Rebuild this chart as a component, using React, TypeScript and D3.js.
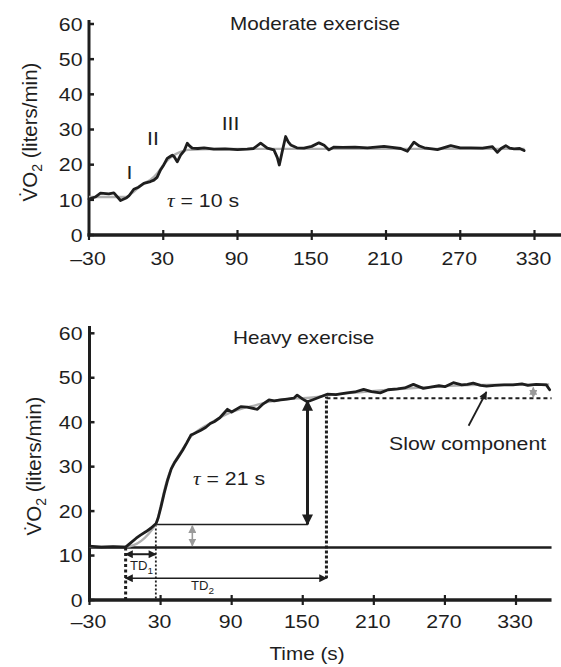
import React from 'react';
import * as d3 from 'd3';

const FONT = "'Liberation Sans', Arial, Helvetica, sans-serif";
const INK = '#1e1e1e';

// ---------- Moderate exercise (measured) ----------
const modTime = [-30, -25, -20.7, -14, -9.9, -4.5, 0, 2.2, 6.2, 10, 14.3, 19.7, 22.4, 25, 27.8, 30.5, 33.2, 35.9, 37.3, 39, 41.3, 44, 47, 49.4, 51, 53.4, 58, 63, 70.9, 80, 90, 97.9, 103, 108.7, 114.1, 119.4, 122.2, 123.8, 126, 128.9, 131, 133, 138, 143.7, 150, 155.8, 160, 163.9, 168, 175, 185, 195, 208.4, 215, 222, 227.3, 232.6, 237, 241, 251.6, 262.3, 270, 278.5, 288, 296, 300, 303, 306.8, 310, 313.5, 318, 321.6];
const modVO2 = [10.2, 10.8, 11.9, 11.7, 12.0, 9.8, 10.5, 11.1, 13.0, 13.6, 14.7, 15.2, 15.6, 16.4, 18.5, 20, 21.8, 22.4, 22.7, 22.2, 20.8, 22.7, 24, 26.1, 25.4, 24.7, 24.6, 24.8, 24.4, 24.5, 24.3, 24.4, 24.6, 26.1, 24.7, 24.2, 22.0, 19.9, 23.5, 28.0, 26.5, 25.6, 24.8, 24.7, 25.2, 26.2, 25.5, 24.2, 25.0, 24.9, 25.0, 24.8, 25.2, 24.9, 24.6, 23.8, 26.4, 25.3, 24.8, 24.3, 25.4, 24.8, 24.8, 24.7, 25.1, 23.5, 24.6, 25.4, 24.7, 24.5, 24.6, 24.0];
// model fit (grey)
const modFitTime = [-30, 0, 5, 10, 15, 20, 25, 30, 35, 40, 45, 50, 60, 80, 322];
const modFitVO2 = [10.8, 10.8, 12.0, 13.5, 14.8, 15.8, 17.5, 19.8, 21.8, 23.0, 23.8, 24.2, 24.4, 24.5, 24.5];

// ---------- Heavy exercise (measured) ----------
const heavyTime = [-30, -20, -10, 0, 1, 5, 9.4, 13, 17.8, 22, 26.2, 28, 30.4, 33, 36, 39, 41.6, 45, 48.6, 52, 55.6, 58, 61, 64, 68, 72, 75.2, 80, 86.5, 90, 97.7, 103, 111.7, 116, 121.5, 126, 131.3, 137, 142.5, 145.3, 150, 153.8, 158, 164, 170.6, 178, 187.4, 194, 201.4, 208, 215.4, 222, 230, 236, 243.4, 248, 251.8, 258, 265, 270, 277.1, 284.1, 289, 293.9, 300, 305.2, 312, 320, 327.5, 335, 340, 347, 355.6, 358.4];
const heavyVO2 = [12.1, 11.9, 12.0, 11.9, 12.0, 12.9, 13.9, 14.6, 15.4, 16.2, 17.2, 18.5, 21, 24, 27, 29.5, 30.8, 32.2, 33.7, 35.3, 37.1, 37.4, 37.8, 38.2, 38.8, 39.7, 40.1, 41.0, 42.9, 42.3, 43.5, 43.4, 42.9, 44.0, 45.0, 44.8, 45.0, 45.2, 45.4, 46.1, 45.2, 44.6, 45.0, 45.6, 46.3, 46.2, 46.6, 46.8, 47.4, 46.9, 46.6, 47.3, 47.5, 47.7, 48.5, 48.0, 47.6, 47.9, 48.2, 48.0, 48.9, 48.4, 48.5, 48.8, 48.3, 48.1, 48.3, 48.4, 48.4, 48.6, 48.3, 48.5, 48.4, 47.3];
const heavyFitTime = [-30, 1, 26, 30, 35, 40, 45, 50, 55, 60, 70, 80, 90, 100, 110, 120, 130, 140, 150, 160, 170, 200, 250, 300, 358];
const heavyFitVO2 = [12, 12, 17, 21, 26.5, 30.2, 32.4, 34.5, 36.6, 37.8, 39.5, 41.0, 42.3, 43.2, 43.8, 44.5, 45.0, 45.3, 45.4, 45.6, 46, 46.8, 47.8, 48.4, 48.5];

// ---------- Annotation values (s, L/min) ----------
const baselineVO2 = 11.8;
const td1Time = 0.5;
const phaseIEnd = 26;
const phaseIVO2 = 17;
const amplitudeTime = 154;
const amplitudeTop = 44.8;
const td2Time = 170;
const primaryPlateau = 45.4;
const td1ArrowVO2 = 10.3;
const td2ArrowVO2 = 4.9;
const greyArrowTime = 56.8;
const slowArrowFrom = [290, 39.2];
const slowArrowTo = [305, 46.8];
const smallGreyArrowTime = 344.6;
const smallGreyArrowTop = 47.8;

const xTicks = [-30, 30, 90, 150, 210, 270, 330];
const yTicks = [0, 10, 20, 30, 40, 50, 60];

const fmt = (v: number) => (v < 0 ? '\u2013' + Math.abs(v) : String(v));

function Txt({ x, y, children, anchor = 'start', size = 18.5, sx = 1.15, fill = INK }: any) {
  return (
    <text transform={`translate(${x},${y}) scale(${sx},1)`} textAnchor={anchor} fontSize={size} fontFamily={FONT} fill={fill}>
      {children}
    </text>
  );
}

function Axes({ x, y, yTop, xEnd, tickBase, labelX, labelY }: any) {
  const x0 = x(-30);
  const y0 = y(0);
  return (
    <g>
      <line x1={x0} x2={x0} y1={yTop} y2={y0 + 1.5} stroke={INK} strokeWidth={3} />
      <line x1={x0 - 1.5} x2={xEnd} y1={y0} y2={y0} stroke={INK} strokeWidth={3.5} />
      {xTicks.map((t) => (
        <line key={'xt' + t} x1={x(t)} x2={x(t)} y1={y0 - 5} y2={y0 + 5} stroke={INK} strokeWidth={2.2} />
      ))}
      {yTicks.map((v) => (
        <line key={'yt' + v} x1={x0} x2={x0 + 5} y1={y(v)} y2={y(v)} stroke={INK} strokeWidth={2.5} />
      ))}
      {xTicks.map((t) => (
        <Txt key={'xl' + t} x={x(t) - 1} y={tickBase} anchor="middle">{fmt(t)}</Txt>
      ))}
      {yTicks.map((v) => (
        <Txt key={'yl' + v} x={82.5} y={y(v) + 6.7} anchor="end">{String(v)}</Txt>
      ))}
      <text transform={`translate(${labelX},${labelY}) rotate(-90)`} textAnchor="middle" fontSize={20.5} fontFamily={FONT} fill={INK}>
        {'V\u0307O'}
        <tspan fontSize={14} dy={5}>2</tspan>
        <tspan dy={-5}>{' (liters/min)'}</tspan>
      </text>
    </g>
  );
}

export default function App() {
  // top panel scales
  const xA = d3.scaleLinear().domain([-30, 330]).range([89, 534.5]);
  const yA = d3.scaleLinear().domain([0, 60]).range([235, 24]);
  // bottom panel scales
  const xB = d3.scaleLinear().domain([-30, 330]).range([89.5, 516]);
  const yB = d3.scaleLinear().domain([0, 60]).range([600, 333.3]);

  const lineA = d3.line<number>().x((_, i) => xA(modTime[i])).y((v) => yA(v));
  const fitA = d3.line<number>().x((_, i) => xA(modFitTime[i])).y((v) => yA(v)).curve(d3.curveMonotoneX);
  const lineB = d3.line<number>().x((_, i) => xB(heavyTime[i])).y((v) => yB(v));
  const fitB = d3.line<number>().x((_, i) => xB(heavyFitTime[i])).y((v) => yB(v)).curve(d3.curveMonotoneX);

  const bEnd = xB(360);

  return (
    <svg width={561} height={667} style={{ position: 'absolute', left: 0, top: 0, background: '#fff' }}>
      <defs>
        <marker id="ahBig" viewBox="0 0 10 10" refX="9" refY="5" markerWidth="12" markerHeight="11" markerUnits="userSpaceOnUse" orient="auto-start-reverse">
          <path d="M0,0 L10,5 L0,10 z" fill={INK} />
        </marker>
        <marker id="ahSmall" viewBox="0 0 10 10" refX="9" refY="5" markerWidth="9" markerHeight="8" markerUnits="userSpaceOnUse" orient="auto-start-reverse">
          <path d="M0,0 L10,5 L0,10 z" fill={INK} />
        </marker>
        <marker id="ahGrey" viewBox="0 0 10 10" refX="9" refY="5" markerWidth="8" markerHeight="8" markerUnits="userSpaceOnUse" orient="auto-start-reverse">
          <path d="M0,0 L10,5 L0,10 z" fill="#9a9a9a" />
        </marker>
      </defs>

      {/* ---------------- Moderate exercise ---------------- */}
      <Axes x={xA} y={yA} yTop={20} xEnd={561} tickBase={265} labelX={36.5} labelY={132} />
      <path d={fitA(modFitVO2) || ''} fill="none" stroke="#b0b0b0" strokeWidth={2.4} />
      <path d={lineA(modVO2) || ''} fill="none" stroke={INK} strokeWidth={2.8} strokeLinejoin="round" strokeLinecap="round" />
      <Txt x={230} y={30} size={18}>Moderate exercise</Txt>
      <Txt x={129.5} y={179} anchor="middle">I</Txt>
      <Txt x={153} y={145} anchor="middle">II</Txt>
      <Txt x={230.5} y={130} anchor="middle">III</Txt>
      <Txt x={167} y={207}>
        <tspan fontFamily="'Liberation Serif', 'Times New Roman', serif" fontStyle="italic">τ</tspan>
        {' = 10 s'}
      </Txt>

      {/* ---------------- Heavy exercise ---------------- */}
      <Axes x={xB} y={yB} yTop={326} xEnd={bEnd} tickBase={628} labelX={41} labelY={466} />

      {/* baseline */}
      <line x1={xB(-30)} x2={bEnd} y1={yB(baselineVO2)} y2={yB(baselineVO2)} stroke={INK} strokeWidth={2.6} />
      {/* phase I level */}
      <line x1={xB(phaseIEnd)} x2={xB(amplitudeTime)} y1={yB(phaseIVO2)} y2={yB(phaseIVO2)} stroke={INK} strokeWidth={1.6} />
      {/* dotted verticals */}
      <line x1={xB(td1Time)} x2={xB(td1Time)} y1={yB(baselineVO2)} y2={yB(0)} stroke={INK} strokeWidth={3} strokeDasharray="3,2.5" />
      <line x1={xB(phaseIEnd)} x2={xB(phaseIEnd)} y1={yB(phaseIVO2)} y2={yB(0)} stroke={INK} strokeWidth={1.8} strokeDasharray="2,2" />
      <line x1={xB(td2Time)} x2={xB(td2Time)} y1={yB(primaryPlateau + 0.6)} y2={yB(td2ArrowVO2)} stroke={INK} strokeWidth={3} strokeDasharray="3,2" />
      {/* primary plateau dotted */}
      <line x1={xB(td2Time)} x2={bEnd} y1={yB(primaryPlateau)} y2={yB(primaryPlateau)} stroke={INK} strokeWidth={2} strokeDasharray="4,3" />

      {/* grey fit and data */}
      <path d={fitB(heavyFitVO2) || ''} fill="none" stroke="#b0b0b0" strokeWidth={2.4} />
      <path d={lineB(heavyVO2) || ''} fill="none" stroke={INK} strokeWidth={2.8} strokeLinejoin="round" strokeLinecap="round" />

      {/* amplitude arrow */}
      <line x1={xB(amplitudeTime)} x2={xB(amplitudeTime)} y1={yB(phaseIVO2)} y2={yB(amplitudeTop)} stroke={INK} strokeWidth={3} markerStart="url(#ahBig)" markerEnd="url(#ahBig)" />
      {/* grey phase I amplitude arrow */}
      <line x1={xB(greyArrowTime)} x2={xB(greyArrowTime)} y1={yB(phaseIVO2 - 0.3)} y2={yB(baselineVO2 + 0.4)} stroke="#9a9a9a" strokeWidth={1.6} markerStart="url(#ahGrey)" markerEnd="url(#ahGrey)" />
      {/* small grey slow-component arrow */}
      <line x1={xB(smallGreyArrowTime)} x2={xB(smallGreyArrowTime)} y1={yB(primaryPlateau + 0.2)} y2={yB(smallGreyArrowTop)} stroke="#9a9a9a" strokeWidth={1.4} markerStart="url(#ahGrey)" markerEnd="url(#ahGrey)" />
      {/* TD1 arrow */}
      <line x1={xB(td1Time)} x2={xB(phaseIEnd)} y1={yB(td1ArrowVO2)} y2={yB(td1ArrowVO2)} stroke={INK} strokeWidth={2} markerStart="url(#ahSmall)" markerEnd="url(#ahSmall)" />
      {/* TD2 arrow */}
      <line x1={xB(td1Time)} x2={xB(td2Time)} y1={yB(td2ArrowVO2)} y2={yB(td2ArrowVO2)} stroke={INK} strokeWidth={1.6} markerStart="url(#ahSmall)" markerEnd="url(#ahSmall)" />
      {/* slow component pointer */}
      <line x1={xB(slowArrowFrom[0])} y1={yB(slowArrowFrom[1])} x2={xB(slowArrowTo[0])} y2={yB(slowArrowTo[1])} stroke={INK} strokeWidth={1.8} markerEnd="url(#ahSmall)" />

      <Txt x={233} y={344} size={18}>Heavy exercise</Txt>
      <Txt x={193} y={485}>
        <tspan fontFamily="'Liberation Serif', 'Times New Roman', serif" fontStyle="italic">τ</tspan>
        {' = 21 s'}
      </Txt>
      <Txt x={389} y={450}>Slow component</Txt>
      <Txt x={130} y={570} size={12.5} sx={1.05}>
        TD<tspan fontSize={9.5} dy={4}>1</tspan>
      </Txt>
      <Txt x={191} y={590} size={12.5} sx={1.05}>
        TD<tspan fontSize={9.5} dy={4}>2</tspan>
      </Txt>
      <Txt x={307} y={660} anchor="middle" size={18}>Time (s)</Txt>
    </svg>
  );
}
